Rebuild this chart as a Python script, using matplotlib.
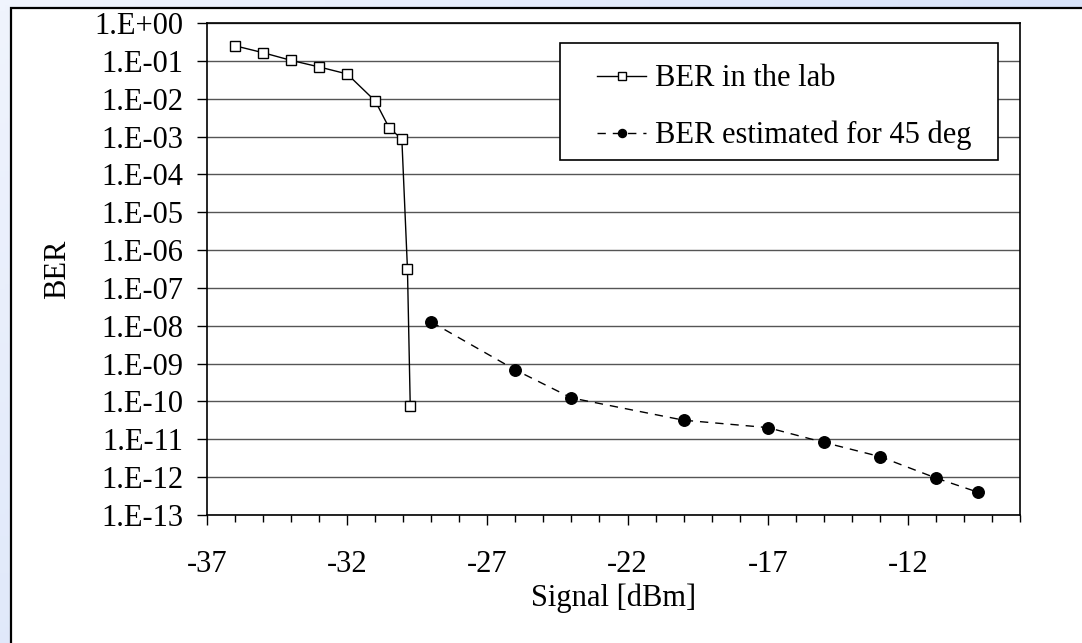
import matplotlib
matplotlib.use("Agg")
import matplotlib.pyplot as plt
from matplotlib.ticker import FixedLocator, FuncFormatter, MultipleLocator
from matplotlib.patches import Rectangle
from matplotlib.colors import LinearSegmentedColormap
import numpy as np

# Data
lab_x = [-36, -35, -34, -33, -32, -31, -30.5, -30.05, -29.85, -29.75]
lab_ber = [0.25, 0.164, 0.103, 0.069, 0.045, 0.0087, 0.00168, 0.00086, 3.2e-7, 7.6e-11]
est_x = [-29, -26, -24, -20, -17, -15, -13, -11, -9.5]
est_ber = [1.26e-8, 6.8e-10, 1.24e-10, 3.2e-11, 2.04e-11, 8.3e-12, 3.5e-12, 9.5e-13, 4.0e-13]
lab_label = "BER in the lab"
est_label = "BER estimated for 45 deg"
x_label = "Signal [dBm]"
y_label = "BER"
y_exponents = list(range(0, -14, -1))
x_min, x_max = -37, -8

plt.rcParams['font.family'] = ['Liberation Serif', 'DejaVu Serif']
FS = 22

W, H = 1082, 643
fig = plt.figure(figsize=(W / 100, H / 100), dpi=100)
fig.patch.set_facecolor('#DCE5FA')

# light-blue gradient backdrop
bg = fig.add_axes([0, 0, 1, 1], zorder=-10)
bg.set_axis_off()
gx, gy = np.meshgrid(np.linspace(0, 1, 200), np.linspace(0, 1, 120))
bg.imshow((gx * 0.6 + gy * 0.4), cmap=LinearSegmentedColormap.from_list('bgc', ['#F0F4FD', '#C9D8F7']),
          aspect='auto', extent=[0, 1, 1, 0], vmin=0, vmax=1)
bg.set_xlim(0, 1)
bg.set_ylim(1, 0)
bg.add_patch(Rectangle((10.5 / W, 7.5 / H), 1.02, 1.02, facecolor='white',
                       edgecolor='black', linewidth=1.6))

ax = fig.add_axes([207 / W, 1 - 515 / H, (1020 - 207) / W, (515 - 23) / H])
ax.set_facecolor('white')
ax.set_yscale('log')
ax.set_ylim(1e-13, 1e0)
ax.set_xlim(x_min, x_max)

ax.yaxis.set_major_locator(FixedLocator([10.0 ** e for e in y_exponents]))
ax.yaxis.set_minor_locator(FixedLocator([]))
ax.yaxis.set_major_formatter(FuncFormatter(lambda v, p: "1.E%+03d" % int(round(np.log10(v)))))
ax.xaxis.set_major_locator(MultipleLocator(5, offset=3))
ax.xaxis.set_minor_locator(MultipleLocator(1))
ax.xaxis.set_major_formatter(FuncFormatter(lambda v, p: "%d" % round(v)))

ax.grid(True, axis='y', which='major', color='#555555', linewidth=1.0)
ax.set_axisbelow(True)

ax.tick_params(axis='y', which='major', direction='out', length=7.2, width=1, pad=10, labelsize=FS)
ax.tick_params(axis='x', which='major', direction='out', length=7.2, width=1, pad=18, labelsize=FS)
ax.tick_params(axis='x', which='minor', direction='out', length=5, width=1)
for s in ax.spines.values():
    s.set_color('black')
    s.set_linewidth(1.2)

ax.plot(lab_x, lab_ber, color='black', linewidth=1.0, marker='s', markersize=7.7,
        markerfacecolor='white', markeredgecolor='black', markeredgewidth=1.0,
        label=lab_label, zorder=3)
ax.plot(est_x, est_ber, color='black', linewidth=1.0, linestyle=(0, (6, 5)),
        marker='o', markersize=8.3, markerfacecolor='black', markeredgecolor='black',
        label=est_label, zorder=3)

ax.set_xlabel(x_label, fontsize=FS)
ax.xaxis.set_label_coords(0.5, (515 - 598) / 492)
ax.xaxis.label.set_va('center')
ax.set_ylabel(y_label, fontsize=FS)
ax.yaxis.set_label_coords((58 - 207) / 813, 0.5)
ax.yaxis.label.set_va('center')

# legend frame (drawn separately to get the reference's padding)
fig.add_artist(Rectangle((560 / W, 1 - 160 / H), (998 - 560) / W, (160 - 43) / H,
                         transform=fig.transFigure, facecolor='white',
                         edgecolor='black', linewidth=1.2, zorder=4))
leg = ax.legend(loc='upper left', bbox_to_anchor=(582 / W, 1 - 49 / H),
                bbox_transform=fig.transFigure, borderaxespad=0, fontsize=FS,
                frameon=False, borderpad=0.5, handlelength=1.6,
                handletextpad=0.3, labelspacing=0.9, markerscale=0.7)
leg.set_zorder(5)
leg.remove()
fig.add_artist(leg)

fig.savefig('out.png', dpi=100, facecolor=fig.get_facecolor())
